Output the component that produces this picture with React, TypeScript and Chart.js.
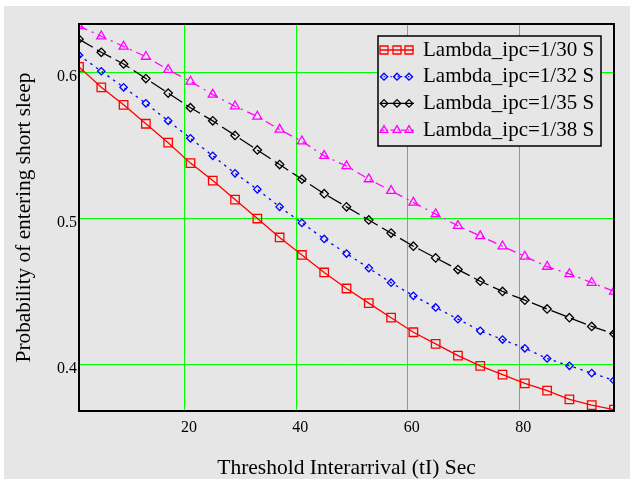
import React, { useEffect, useRef } from 'react';
import { Chart, registerables } from 'chart.js';

Chart.register(...registerables);

// ---- data ----
const xValues = [1, 5, 9, 13, 17, 21, 25, 29, 33, 37, 41, 45, 49, 53, 57, 61, 65, 69, 73, 77, 81, 85, 89, 93, 97];
const seriesLabels = ['Lambda_ipc=1/30 S', 'Lambda_ipc=1/32 S', 'Lambda_ipc=1/35 S', 'Lambda_ipc=1/38 S'];
const lambda30 = [0.604, 0.590, 0.578, 0.565, 0.552, 0.538, 0.526, 0.513, 0.500, 0.487, 0.475, 0.463, 0.452, 0.442, 0.432, 0.422, 0.414, 0.406, 0.399, 0.393, 0.387, 0.382, 0.376, 0.372, 0.369];
const lambda32 = [0.612, 0.601, 0.590, 0.579, 0.567, 0.555, 0.543, 0.531, 0.520, 0.508, 0.497, 0.486, 0.476, 0.466, 0.456, 0.447, 0.439, 0.431, 0.423, 0.417, 0.411, 0.404, 0.399, 0.394, 0.389];
const lambda35 = [0.623, 0.614, 0.606, 0.596, 0.586, 0.576, 0.567, 0.557, 0.547, 0.537, 0.527, 0.517, 0.508, 0.499, 0.490, 0.481, 0.473, 0.465, 0.457, 0.450, 0.444, 0.438, 0.432, 0.426, 0.421];
const lambda38 = [0.632, 0.625, 0.618, 0.611, 0.602, 0.594, 0.585, 0.577, 0.570, 0.561, 0.553, 0.543, 0.536, 0.527, 0.519, 0.511, 0.503, 0.495, 0.488, 0.481, 0.474, 0.467, 0.462, 0.456, 0.450];
const xTickValues = [20, 40, 60, 80];
const yTickValues = [0.4, 0.5, 0.6];
const xTitle = 'Threshold Interarrival (tI) Sec';
const yTitle = 'Probability of entering short sleep';

// ---- styles ----
const FONT = "'Liberation Serif', 'Times New Roman', serif";
const BG = '#e6e6e6';
const GRID = '#00ff00';
const styles = [
  { color: '#ff0000', pointStyle: 'rect', radius: 6, legendSize: 4, dash: [] as number[] },
  { color: '#0000ff', pointStyle: 'rectRot', radius: 3.7, legendSize: 3.5, dash: [2.5, 4.5] },
  { color: '#000000', pointStyle: 'rectRot', radius: 4.2, legendSize: 3.8, dash: [16, 5] },
  { color: '#ff00ff', pointStyle: 'triangle', radius: 5.2, legendSize: 4.5, dash: [9, 5, 2, 5] },
];
const seriesValues = [lambda30, lambda32, lambda35, lambda38];

function drawMarker(ctx: CanvasRenderingContext2D, style: string, x: number, y: number, r: number) {
  ctx.beginPath();
  if (style === 'rect') {
    ctx.rect(x - r, y - r, 2 * r, 2 * r);
  } else if (style === 'rectRot') {
    ctx.moveTo(x, y - r);
    ctx.lineTo(x + r, y);
    ctx.lineTo(x, y + r);
    ctx.lineTo(x - r, y);
    ctx.closePath();
  } else {
    const w = r * Math.sqrt(3) / 2;
    ctx.moveTo(x, y - r);
    ctx.lineTo(x + w, y + r / 2);
    ctx.lineTo(x - w, y + r / 2);
    ctx.closePath();
  }
  ctx.stroke();
}

const backgroundPlugin = {
  id: 'bgFill',
  beforeDraw(chart: any) {
    const { ctx, width, height } = chart;
    ctx.save();
    ctx.fillStyle = '#ffffff';
    ctx.fillRect(0, 0, width, height);
    ctx.fillStyle = BG;
    ctx.fillRect(4, 6, width - 4, height - 6);
    ctx.restore();
  },
};

const frameLegendPlugin = {
  id: 'frameLegend',
  afterDatasetsDraw(chart: any) {
    const { ctx, chartArea } = chart;
    ctx.save();
    ctx.setLineDash([]);
    ctx.strokeStyle = '#000';
    ctx.lineWidth = 2;
    ctx.strokeRect(chartArea.left, chartArea.top, chartArea.right - chartArea.left, chartArea.bottom - chartArea.top);

    const bx = chartArea.right - 236;
    const by = chartArea.top + 12;
    const bw = 223;
    const bh = 110;
    ctx.fillStyle = BG;
    ctx.fillRect(bx, by, bw, bh);
    ctx.lineWidth = 1.5;
    ctx.strokeRect(bx, by, bw, bh);

    chart.data.datasets.forEach((ds: any, i: number) => {
      const st = styles[i];
      const cy = by + 14 + i * 26.7;
      ctx.strokeStyle = st.color;
      ctx.lineWidth = 1.3;
      ctx.setLineDash(i === 2 ? [] : st.dash.map((d: number) => d * 0.5));
      ctx.beginPath();
      ctx.moveTo(bx + 2, cy);
      ctx.lineTo(bx + 36, cy);
      ctx.stroke();
      ctx.setLineDash([]);
      [6, 19, 31].forEach((dx) => drawMarker(ctx, st.pointStyle, bx + dx, cy, st.legendSize));
      ctx.fillStyle = '#000';
      ctx.font = `21px ${FONT}`;
      ctx.textBaseline = 'middle';
      ctx.textAlign = 'left';
      ctx.fillText(ds.label, bx + 45, cy);
    });
    ctx.restore();
  },
};

export default function App() {
  const ref = useRef<HTMLCanvasElement>(null);
  useEffect(() => {
    document.body.style.margin = '0';
    const datasets = seriesValues.map((vals, i) => ({
      label: seriesLabels[i],
      data: xValues.map((x, j) => ({ x, y: vals[j] })),
      borderColor: styles[i].color,
      borderWidth: 1.3,
      borderDash: styles[i].dash,
      pointStyle: styles[i].pointStyle as any,
      pointRadius: styles[i].radius,
      pointBorderColor: styles[i].color,
      pointBackgroundColor: 'rgba(0,0,0,0)',
      pointBorderWidth: 1.3,
      tension: 0,
      fill: false,
    }));
    const chart = new Chart(ref.current as HTMLCanvasElement, {
      type: 'line',
      data: { datasets },
      options: {
        animation: false,
        responsive: false,
        devicePixelRatio: 1,
        events: [],
        layout: { padding: { top: 24, right: 16, left: 0, bottom: 0 } },
        plugins: { legend: { display: false }, tooltip: { enabled: false } },
        scales: {
          x: {
            type: 'linear',
            min: 1,
            max: 97,
            afterBuildTicks: (s: any) => { s.ticks = xTickValues.map((v) => ({ value: v })); },
            afterFit: (s: any) => { s.height = 68; },
            grid: { color: GRID, lineWidth: 1, drawTicks: false },
            border: { display: false },
            ticks: {
              color: '#000',
              font: { family: FONT, size: 16 },
              padding: 7,
              labelOffset: 4,
              maxRotation: 0,
              callback: (v: any) => String(v),
            },
            title: {
              display: true,
              text: xTitle,
              color: '#000',
              font: { family: FONT, size: 21.5 },
              padding: { top: 0, bottom: -2 },
            },
          },
          y: {
            type: 'linear',
            min: 0.368,
            max: 0.6334,
            afterBuildTicks: (s: any) => { s.ticks = yTickValues.map((v) => ({ value: v })); },
            afterFit: (s: any) => { s.width = 79; },
            grid: { color: GRID, lineWidth: 1, drawTicks: false },
            border: { display: false },
            ticks: {
              color: '#000',
              font: { family: FONT, size: 16 },
              padding: 2,
              labelOffset: 4,
              callback: (v: any) => Number(v).toFixed(1),
            },
            title: {
              display: true,
              text: yTitle,
              color: '#000',
              font: { family: FONT, size: 21.3 },
              padding: { top: 12, bottom: 0 },
            },
          },
        },
      },
      plugins: [backgroundPlugin, frameLegendPlugin],
    });
    return () => chart.destroy();
  }, []);
  return <canvas ref={ref} width={630} height={479} style={{ display: 'block', width: 630, height: 479 }} />;
}
